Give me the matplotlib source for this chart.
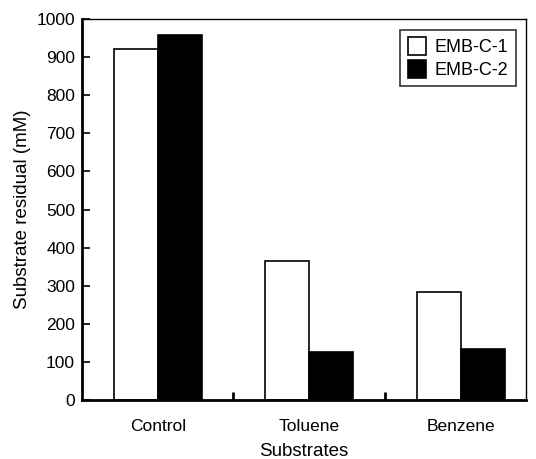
import matplotlib
matplotlib.use("Agg")
import matplotlib.pyplot as plt
import numpy as np

plt.rcParams['font.family'] = ['Liberation Sans', 'DejaVu Sans']

substrates = ["Control", "Toluene", "Benzene"]
emb_c1 = [921, 365, 283]
emb_c2 = [958, 126, 134]

fig = plt.figure(figsize=(5.36, 4.59), dpi=100)
ax = fig.add_axes([0.153, 0.1285, 0.828, 0.830])

x = np.arange(len(substrates))
w = 0.29
ax.bar(x - w / 2, emb_c1, w, color='white', edgecolor='black', linewidth=1.2, label='EMB-C-1')
ax.bar(x + w / 2, emb_c2, w, color='black', edgecolor='black', linewidth=1.2, label='EMB-C-2')

ax.set_xlim(-0.5, 2.43)
ax.set_ylim(0, 1000)
ax.set_yticks(range(0, 1001, 100))
ax.set_xticks(x)
ax.set_xticklabels(substrates)
ax.set_xticks([0.5, 1.5], minor=True)
ax.tick_params(axis='x', which='major', length=0, labelsize=12.5, pad=14)
ax.tick_params(axis='x', which='minor', direction='in', length=6, width=2)
ax.tick_params(axis='y', direction='in', length=6, width=1.2, labelsize=12.5, pad=5)

for side in ['left', 'bottom']:
    ax.spines[side].set_linewidth(2)
for side in ['top', 'right']:
    ax.spines[side].set_linewidth(1)

ax.set_xlabel('Substrates', fontsize=13.5, labelpad=6.5)
ax.set_ylabel('Substrate residual (mM)', fontsize=13.5, labelpad=4)

leg = ax.legend(loc='upper right', fontsize=13, frameon=True, fancybox=False,
                edgecolor='black', handlelength=1.0, handleheight=1.15,
                handletextpad=0.5, borderpad=0.4, labelspacing=0.2,
                borderaxespad=0, bbox_to_anchor=(0.977, 0.971))
leg.get_frame().set_linewidth(1.2)

fig.savefig('out.png', dpi=100)
